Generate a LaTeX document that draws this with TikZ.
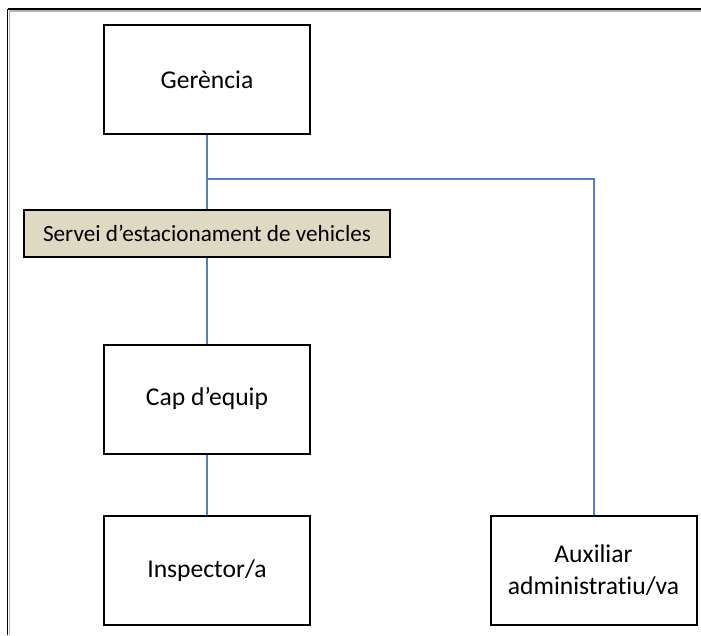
\documentclass[tikz,border=0pt]{standalone}
\usepackage{fontspec}
\setmainfont{Carlito}[Ligatures=NoCommon]
\definecolor{linkblue}{HTML}{4F81BD}
\definecolor{servtan}{HTML}{DDD9C3}
\begin{document}
\begin{tikzpicture}[x=1pt, y=-1pt, font=\fontsize{25.6}{32}\selectfont,
            line join=miter, line cap=butt,
            post/.style={draw=black, line width=2pt, fill=white, inner sep=0pt,
                minimum width=206pt, minimum height=109pt, align=center},
            link/.style={draw=linkblue, line width=2pt}]
            \def\cx{207}
            \def\rx{593.5}
            \useasboundingbox (0,0) rectangle (701,635);
            % frame of the page
            \draw[gray!60, line width=1.5pt] (9,11) -- (701,11);
            \draw[black, line width=1.5pt] (8,9) -- (701,9);
            \draw[gray!60, line width=1pt] (9.5,10) -- (9.5,635);
            \draw[black, line width=1pt] (7.5,9) -- (7.5,635);
            % boxes
            \node[post] (ger) at (\cx,79.5) {Gerència};
            \node[post, fill=servtan, minimum width=366pt, minimum height=47pt,
                font=\fontsize{23.2}{28}\selectfont] (serv) at (\cx,233.5) {Servei d’estacionament de vehicles};
            \node[post] (cap) at (\cx,399) {Cap d’equip};
            \node[post] (insp) at (\cx,570.5) {Inspector/a};
            \node[post] (aux) at (\rx,570) {Auxiliar\\administratiu/va};
            \coordinate (junc) at (\cx,179);
            % connectors
            \draw[link] (ger.south) -- (serv.north);
            \draw[link] (junc) -| (aux.north);
            \draw[link] (serv.south) -- (cap.north);
            \draw[link] (cap.south) -- (insp.north);
\end{tikzpicture}
\end{document}
